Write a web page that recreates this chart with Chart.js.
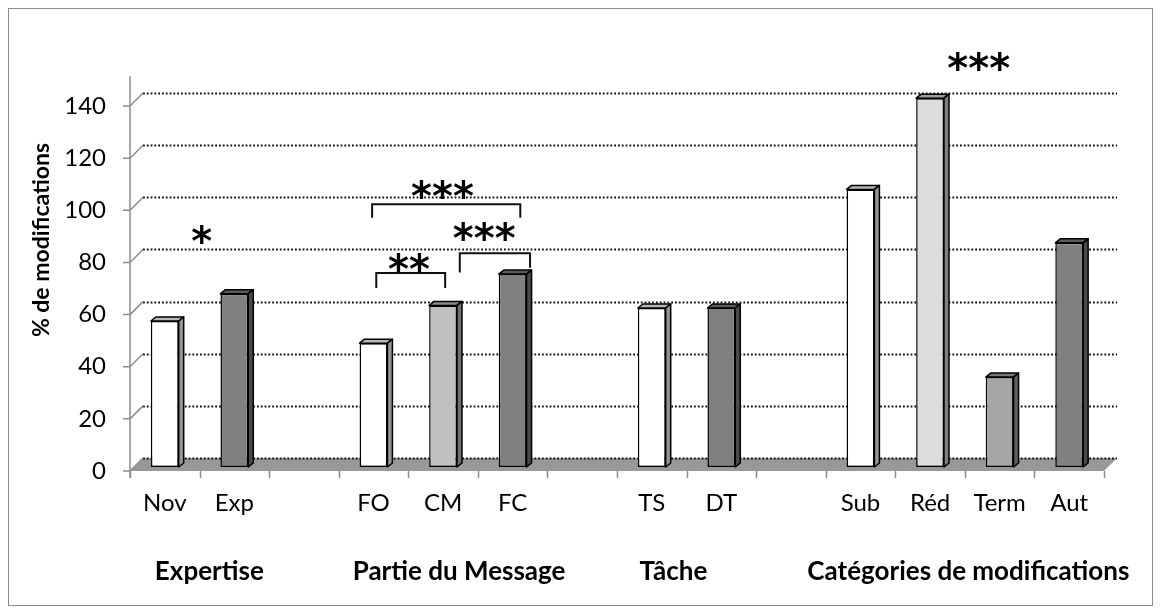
<!DOCTYPE html>
<html lang="fr">
<head>
<meta charset="utf-8">
<title>% de modifications</title>
<script src="https://cdn.jsdelivr.net/npm/chart.js@4.4.1/dist/chart.umd.min.js"></script>
<style>
  html, body { margin: 0; padding: 0; background: #fff; }
  canvas { display: block; }
</style>
</head>
<body>
<canvas id="chart" width="1161" height="614"></canvas>
<script>
// data (empty categories are the gaps between groups)
const categories = ['Nov', 'Exp', '', 'FO', 'CM', 'FC', '', 'TS', 'DT', '', 'Sub', 'Réd', 'Term', 'Aut'];
const modifications = [56, 66.5, null, 47.5, 62, 74, null, 61, 61, null, 106.5, 141.5, 34.5, 86];
const yTicks = [0, 20, 40, 60, 80, 100, 120, 140];
const groupNames = ['Expertise', 'Partie du Message', 'Tâche', 'Catégories de modifications'];

// significance marks, in category index / value units
const brackets = [
  { from: 2.98, to: 5.11, top: 100.8, legs: [95.6, 95.6] },
  { from: 3.04, to: 4.03, top: 74.4, legs: [68.7, 68.7] },
  { from: 4.24, to: 5.25, top: 82.0, legs: [74.6, 76.4] }
];
const stars = [
  { text: '*', at: 0.53, value: 89.5 },
  { text: '***', at: 3.99, value: 106.8 },
  { text: '**', at: 3.51, value: 78.5 },
  { text: '***', at: 4.59, value: 90.6 },
  { text: '***', at: 11.70, value: 155.6 }
];

// look
const barColors = ['#ffffff', '#808080', null, '#ffffff', '#c0c0c0', '#808080', null,
  '#ffffff', '#808080', null, '#ffffff', '#dcdcdc', '#a6a6a6', '#808080'];
const groupAt = [0.64, 4.23, 7.31, 11.55];
const wall = { dx: 13, dy: 13, axisShift: 4 };
const bar3d = { dx: 5, dy: 4 };
const font = 'Lato, "Open Sans", sans-serif';

function shade(hex, f) {
  const n = parseInt(hex.slice(1), 16);
  const r = Math.round(((n >> 16) & 255) * f);
  const g = Math.round(((n >> 8) & 255) * f);
  const b = Math.round((n & 255) * f);
  return `rgb(${r},${g},${b})`;
}

const decor = {
  id: 'decor',
  beforeDatasetsDraw(chart) {
    const { ctx, chartArea: area, scales: { x, y } } = chart;
    const step = x.getPixelForValue(1) - x.getPixelForValue(0);
    const left = area.left, right = area.right;
    const y0 = y.getPixelForValue(0) + wall.axisShift;

    ctx.save();
    // floor
    ctx.fillStyle = '#989898';
    ctx.beginPath();
    ctx.moveTo(left, y0);
    ctx.lineTo(left + wall.dx, y0 - wall.dy);
    ctx.lineTo(right + wall.dx, y0 - wall.dy);
    ctx.lineTo(right, y0);
    ctx.closePath();
    ctx.fill();

    // dotted gridlines on the back wall
    ctx.strokeStyle = '#111';
    ctx.lineWidth = 1.8;
    ctx.setLineDash([1.8, 2]);
    yTicks.forEach(v => {
      const py = Math.round(y.getPixelForValue(v) + wall.axisShift - wall.dy) + 0.5;
      ctx.beginPath();
      ctx.moveTo(left + wall.dx, py);
      ctx.lineTo(right + wall.dx, py);
      ctx.stroke();
    });
    ctx.setLineDash([]);

    // y axis, ticks and slants
    ctx.strokeStyle = '#8c8c8c';
    ctx.lineWidth = 1.5;
    ctx.beginPath();
    ctx.moveTo(left, area.top);
    ctx.lineTo(left, y0 + 7);
    yTicks.forEach(v => {
      const py = y.getPixelForValue(v) + wall.axisShift;
      ctx.moveTo(left - 7, py);
      ctx.lineTo(left, py);
      ctx.moveTo(left, py);
      ctx.lineTo(left + wall.dx, py - wall.dy);
    });
    // x ticks at category boundaries
    for (let i = 0; i <= categories.length; i++) {
      const px = Math.round(x.getPixelForValue(i) - step / 2) + 0.5;
      ctx.moveTo(px, y0);
      ctx.lineTo(px, y0 + 7);
    }
    ctx.stroke();
    ctx.restore();
  },
  afterDatasetsDraw(chart) {
    const { ctx, scales: { x, y } } = chart;
    const meta = chart.getDatasetMeta(0);
    ctx.save();
    ctx.strokeStyle = '#000';
    ctx.lineWidth = 1.5;
    ctx.lineJoin = 'round';
    meta.data.forEach((el, i) => {
      if (modifications[i] == null) return;
      const { x: cx, y: top, base, width } = el.getProps(['x', 'y', 'base', 'width'], true);
      const l = cx - width / 2, r = cx + width / 2;
      const dx = bar3d.dx, dy = bar3d.dy;
      // top face
      ctx.fillStyle = shade(barColors[i], 0.72);
      ctx.beginPath();
      ctx.moveTo(l, top);
      ctx.lineTo(l + dx, top - dy);
      ctx.lineTo(r + dx, top - dy);
      ctx.lineTo(r, top);
      ctx.closePath();
      ctx.fill();
      ctx.stroke();
      // side face
      ctx.fillStyle = shade(barColors[i], 0.58);
      ctx.beginPath();
      ctx.moveTo(r, top);
      ctx.lineTo(r + dx, top - dy);
      ctx.lineTo(r + dx, base - dy);
      ctx.lineTo(r, base);
      ctx.closePath();
      ctx.fill();
      ctx.stroke();
    });

    // brackets
    ctx.strokeStyle = '#111';
    ctx.lineWidth = 2;
    ctx.lineJoin = 'miter';
    brackets.forEach(b => {
      const x1 = x.getPixelForValue(b.from), x2 = x.getPixelForValue(b.to);
      const yt = y.getPixelForValue(b.top);
      ctx.beginPath();
      ctx.moveTo(x1, y.getPixelForValue(b.legs[0]));
      ctx.lineTo(x1, yt);
      ctx.lineTo(x2, yt);
      ctx.lineTo(x2, y.getPixelForValue(b.legs[1]));
      ctx.stroke();
    });

    // stars
    ctx.fillStyle = '#000';
    ctx.font = 'bold 40px "DejaVu Sans", sans-serif';
    ctx.textAlign = 'center';
    ctx.textBaseline = 'alphabetic';
    const m = ctx.measureText('*');
    const mid = (m.actualBoundingBoxAscent - m.actualBoundingBoxDescent) / 2;
    const pitch = 21;
    stars.forEach(s => {
      const cx = x.getPixelForValue(s.at);
      const cy = y.getPixelForValue(s.value);
      const n = s.text.length;
      for (let k = 0; k < n; k++) {
        ctx.fillText('*', cx + (k - (n - 1) / 2) * pitch, cy + mid);
      }
    });
    ctx.restore();
  },
  afterDraw(chart) {
    const { ctx, scales: { x } } = chart;
    ctx.save();
    ctx.fillStyle = '#000';
    // group titles
    ctx.font = `bold 26px ${font}`;
    ctx.textAlign = 'center';
    ctx.textBaseline = 'middle';
    groupNames.forEach((g, i) => {
      ctx.fillText(g, x.getPixelForValue(groupAt[i]), 572);
    });
    // y axis title
    ctx.translate(42, 240);
    ctx.rotate(-Math.PI / 2);
    ctx.font = `bold 23px ${font}`;
    ctx.fillText('% de modifications', 0, 0);
    ctx.restore();
    // chart border
    ctx.save();
    ctx.strokeStyle = '#8c8c8c';
    ctx.lineWidth = 1;
    ctx.strokeRect(8.5, 8.5, 1144, 597);
    ctx.restore();
  }
};

new Chart(document.getElementById('chart'), {
  type: 'bar',
  data: {
    labels: categories,
    datasets: [{
      data: modifications,
      backgroundColor: barColors.map(c => c || '#fff'),
      borderColor: '#000',
      borderWidth: 1.5,
      borderSkipped: false,
      barPercentage: 0.4,
      categoryPercentage: 1
    }]
  },
  options: {
    responsive: false,
    animation: false,
    layout: { padding: { top: 76, right: 57, bottom: 0, left: 0 } },
    plugins: { legend: { display: false }, tooltip: { enabled: false } },
    scales: {
      x: {
        grid: { display: false, drawTicks: false },
        border: { display: false },
        ticks: { color: '#000', font: { family: font, size: 24 }, padding: 22, maxRotation: 0, autoSkip: false },
        afterFit(scale) { scale.height = 147; }
      },
      y: {
        min: 0,
        max: 150,
        grid: { display: false, drawTicks: false },
        border: { display: false },
        ticks: { color: '#000', font: { family: font, size: 24 }, padding: 24, labelOffset: 4 },
        afterBuildTicks(scale) { scale.ticks = yTicks.map(v => ({ value: v })); },
        afterFit(scale) { scale.width = 130; }
      }
    }
  },
  plugins: [decor]
});
</script>
</body>
</html>
